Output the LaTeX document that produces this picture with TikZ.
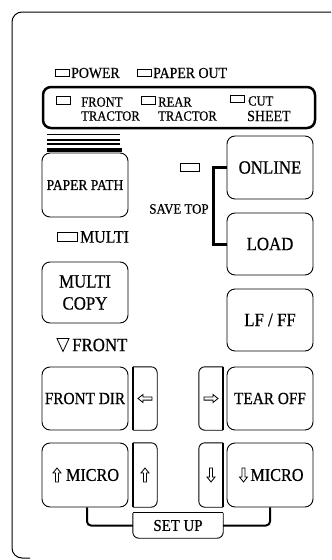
\documentclass[tikz,border=0pt]{standalone}
\usepackage{fontspec}
\setmainfont{Liberation Serif}[FakeStretch=0.9, FakeBold=0.6]
\begin{document}
\begin{tikzpicture}[x=1pt,y=-1pt,
  btn/.style={draw, line width=0.9pt, rounded corners=8pt, minimum width=86pt, minimum height=63pt, inner sep=0pt, align=center, font=\fontsize{18.7}{22}\selectfont},
  led/.style={draw, line width=0.8pt, inner sep=0pt, minimum width=14pt, minimum height=7.5pt},
  lbl/.style={inner sep=0pt, anchor=west, font=\fontsize{15.4}{16}\selectfont},
  small/.style={inner sep=0pt, anchor=west, font=\fontsize{14}{15}\selectfont},
  keybox/.style={inner sep=0pt, minimum width=24pt, minimum height=63pt},
  conn/.style={line width=2pt, rounded corners=4pt},
  arrowglyph/.style={line width=0.8pt},
  larr/.pic={\draw[arrowglyph] (-7,0) -- (-2,-4) -- (-2,-1.6) -- (7,-1.6) -- (7,1.6) -- (-2,1.6) -- (-2,4) -- cycle;},
  rarr/.pic={\draw[arrowglyph] (7,0) -- (2,-4) -- (2,-1.6) -- (-7,-1.6) -- (-7,1.6) -- (2,1.6) -- (2,4) -- cycle;},
  uarr/.pic={\draw[arrowglyph] (0,-7) -- (4,-2) -- (1.5,-2) -- (1.5,7) -- (-1.5,7) -- (-1.5,-2) -- (-4,-2) -- cycle;},
  darr/.pic={\draw[arrowglyph] (0,7) -- (4,2) -- (1.5,2) -- (1.5,-7) -- (-1.5,-7) -- (-1.5,2) -- (-4,2) -- cycle;}
]
\useasboundingbox (0,0) rectangle (332,560);
% outer panel
\draw[line width=1pt, rounded corners=10pt] (331,12) -- (12,12) -- (12,558) -- (30,558);

% top LEDs
\node[led] (ledpower) at (62.5,73) {};
\node[lbl] (power) at (71,73) {POWER};
\node[led] (ledpaper) at (144,73) {};
\node[lbl] (paperout) at (153,73) {PAPER OUT};

% tractor box
\draw[line width=2.5pt, rounded corners=8pt] (43,87) rectangle (315,128);
\node[led] (ledfront) at (63,100.5) {};
\node[small] (front) at (81,102) {FRONT};
\node[small] (tractor1) at (81,116) {TRACTOR};
\node[led] (ledrear) at (148.5,100.5) {};
\node[small] (rear) at (158,102) {REAR};
\node[small] (tractor2) at (158,116) {TRACTOR};
\node[led] (ledcut) at (237.5,99) {};
\node[small] (cut) at (248,101) {CUT};
\node[small, font=\fontsize{15.5}{16}\selectfont] (sheet) at (247,116) {SHEET};

% paper stack
\draw[line width=1pt] (47,134.5) -- (120,134.5);
\draw[line width=2pt] (47,139.5) -- (120,139.5);
\draw[line width=2pt] (47,143.5) -- (120,143.5);
\draw[line width=4pt] (47,150) -- (122,150);

% buttons
\node[btn, minimum height=64pt, font=\fontsize{15}{16}\selectfont] (paper) at (85,185) {PAPER PATH};
\node[btn] (online) at (270,167.5) {ONLINE};
\node[btn, minimum height=62pt] (load) at (270,244) {LOAD};
\node[btn, minimum height=61pt] (multicopy) at (85,292.5) {MULTI\\COPY};
\node[btn, minimum height=62pt] (lfff) at (270,320) {LF / FF};
\node[btn, font=\fontsize{17}{18}\selectfont] (frontdir) at (85,398.5) {FRONT DIR};
\node[btn, font=\fontsize{17}{18}\selectfont] (tearoff) at (270,398.5) {TEAR OFF};
\node[btn, minimum height=64pt] (microL) at (85,475) {};
\node[btn, minimum height=64pt] (microR) at (270,475) {};
\node[inner sep=0pt, font=\fontsize{18}{18}\selectfont] (microLt) at (92.5,475) {MICRO};
\pic at (57,475) {uarr};
\node[inner sep=0pt, font=\fontsize{18}{18}\selectfont] (microRt) at (277,475) {MICRO};
\pic at (243.5,475) {darr};

% save top
\node[led, minimum width=19pt, minimum height=8pt] (ledsave) at (189.5,167) {};
\node[inner sep=0pt, font=\fontsize{14.3}{15}\selectfont] (savetop) at (179,209) {SAVE TOP};
\draw[line width=3pt] (online.west) -- ++(-13,0) |- (load.west);

% multi
\node[led, minimum width=20pt, minimum height=9pt] (ledmulti) at (67,236.5) {};
\node[lbl, font=\fontsize{17.6}{18}\selectfont] (multi) at (80,237) {MULTI};

% front
\draw[line width=0.8pt] (57,338.5) -- (69,338.5) -- (63,351.5) -- cycle;
\node[lbl, font=\fontsize{18.7}{19}\selectfont] (frontlbl) at (72,345) {FRONT};

% small arrow keys
\node[keybox] (kleft) at (145,398.5) {};
\draw[line width=0.9pt, rounded corners=6pt] (kleft.north west) -- (kleft.north east) -- (kleft.south east) -- (kleft.south west);
\draw[line width=1.5pt] (kleft.north west) -- (kleft.south west);
\pic at (kleft.center) {larr};

\node[keybox] (kright) at (211,398.5) {};
\draw[line width=0.9pt, rounded corners=6pt] (kright.north east) -- (kright.north west) -- (kright.south west) -- (kright.south east);
\draw[line width=1.5pt] (kright.north east) -- (kright.south east);
\pic at (kright.center) {rarr};

\node[keybox, minimum height=64pt] (kup) at (145,475) {};
\draw[line width=0.9pt, rounded corners=6pt] (kup.north west) -- (kup.north east) -- (kup.south east) -- (kup.south west);
\draw[line width=1.5pt] (kup.north west) -- (kup.south west);
\pic at (kup.center) {uarr};

\node[keybox, minimum height=64pt] (kdown) at (211,475) {};
\draw[line width=0.9pt, rounded corners=6pt] (kdown.north east) -- (kdown.north west) -- (kdown.south west) -- (kdown.south east);
\draw[line width=1.5pt] (kdown.north east) -- (kdown.south east);
\pic at (kdown.center) {darr};

% set up
\node[inner sep=0pt, minimum width=90pt, minimum height=25pt, font=\fontsize{16.5}{17}\selectfont] (setup) at (178,525.5) {SET UP};
\draw[line width=0.9pt, rounded corners=6pt] (setup.north west) -- (setup.south west) -- (setup.south east) -- (setup.north east);
\draw[line width=0.9pt] (setup.north west) -- (setup.north east);
\draw[conn] ([xshift=2pt]microL.south) |- (setup.west);
\draw[conn] (microR.south) |- (setup.east);
\end{tikzpicture}
\end{document}
